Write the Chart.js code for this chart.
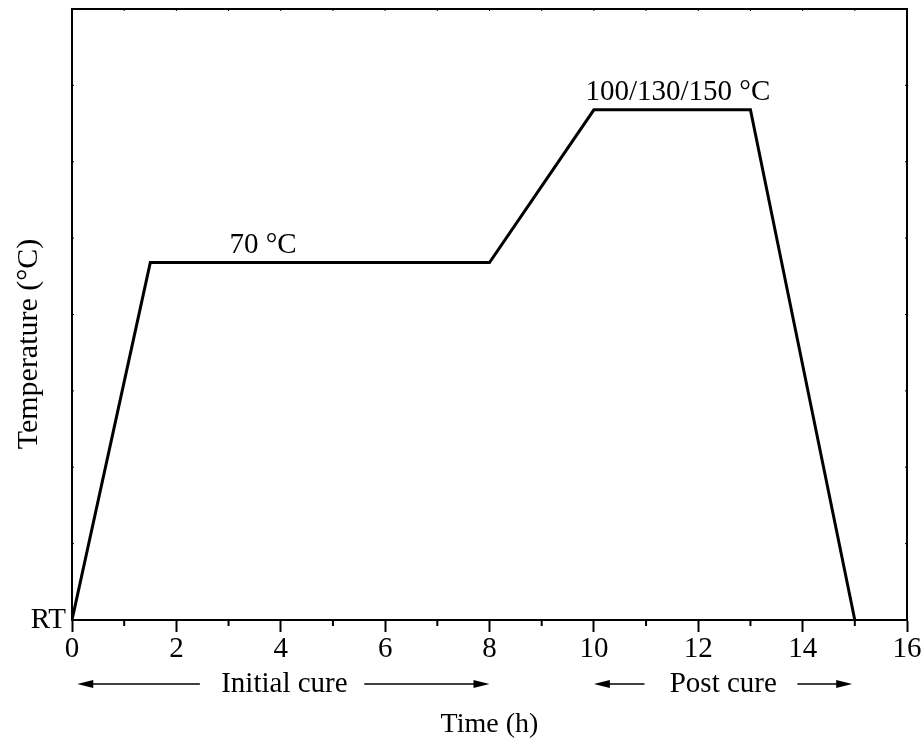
<!DOCTYPE html>
<html>
<head>
<meta charset="utf-8">
<script src="https://cdn.jsdelivr.net/npm/chart.js@4.4.1/dist/chart.umd.min.js"></script>
<style>
  html, body { margin: 0; padding: 0; background: #fff; }
  #wrap { width: 921px; height: 742px; }
</style>
</head>
<body>
<div id="wrap"><canvas id="cureChart" width="921" height="742"></canvas></div>
<script>
// cure schedule (y in arbitrary units, RT = 0)
const times = [0, 1.5, 8, 10, 13, 15];
const temps = [0, 4.68, 4.68, 6.68, 6.68, 0];

// plateau labels
const noteText = ['70 °C', '100/130/150 °C'];
const noteX = [3.66, 11.61];
const noteY = [4.68, 6.68];

// phase arrows under the x axis (x in hours)
const phaseNames = ['Initial cure', 'Post cure'];
const phaseLabelX = [4.07, 12.48];
const arrowFrom = [2.45, 5.6, 10.97, 13.9];
const arrowTo = [0.1, 8.0, 10.0, 14.95];

const SERIF = '"Liberation Serif", "Times New Roman", serif';

const extras = {
    id: 'extras',
    afterDraw(chart) {
        const ctx = chart.ctx;
        const a = chart.chartArea;
        const xs = chart.scales.x, ys = chart.scales.y;
        ctx.save();
        ctx.strokeStyle = '#000';
        ctx.fillStyle = '#000';

        // top and right of the frame
        ctx.lineWidth = 2;
        ctx.beginPath();
        ctx.moveTo(a.left - 1, a.top);
        ctx.lineTo(a.right, a.top);
        ctx.lineTo(a.right, a.bottom);
        ctx.stroke();

        // minor ticks on bottom, tiny inward ticks on the other sides
        ctx.lineWidth = 2;
        ctx.beginPath();
        for (let v = 1; v < 16; v += 2) {
            const px = xs.getPixelForValue(v);
            ctx.moveTo(px, a.bottom);
            ctx.lineTo(px, a.bottom + 6);
        }
        ctx.stroke();
        ctx.lineWidth = 1;
        ctx.beginPath();
        for (let v = 1; v < 16; v++) {
            const px = xs.getPixelForValue(v);
            ctx.moveTo(px, a.top);
            ctx.lineTo(px, a.top + 2);
        }
        for (let v = 1; v < 8; v++) {
            const py = ys.getPixelForValue(v);
            ctx.moveTo(a.left, py);
            ctx.lineTo(a.left + 2, py);
            ctx.moveTo(a.right, py);
            ctx.lineTo(a.right - 2, py);
        }
        ctx.stroke();

        // plateau labels
        ctx.font = '29px ' + SERIF;
        ctx.textAlign = 'center';
        ctx.textBaseline = 'alphabetic';
        noteText.forEach((t, i) => {
            ctx.fillText(t, xs.getPixelForValue(noteX[i]), ys.getPixelForValue(noteY[i]) - 10);
        });

        // phase arrows + names
        const ay = a.bottom + 64;
        ctx.lineWidth = 1.5;
        arrowFrom.forEach((f, i) => {
            const x0 = xs.getPixelForValue(f);
            const x1 = xs.getPixelForValue(arrowTo[i]);
            const dir = x1 > x0 ? 1 : -1;
            ctx.beginPath();
            ctx.moveTo(x0, ay);
            ctx.lineTo(x1 - dir * 10, ay);
            ctx.stroke();
            ctx.beginPath();
            ctx.moveTo(x1, ay);
            ctx.lineTo(x1 - dir * 16, ay - 4);
            ctx.lineTo(x1 - dir * 16, ay + 4);
            ctx.closePath();
            ctx.fill();
        });
        phaseNames.forEach((n, i) => {
            ctx.fillText(n, xs.getPixelForValue(phaseLabelX[i]), ay + 8);
        });

        // y title (sits a bit below the middle in the original)
        ctx.font = '30px ' + SERIF;
        ctx.translate(37, 344);
        ctx.rotate(-Math.PI / 2);
        ctx.fillText('Temperature (°C)', 0, 0);
        ctx.restore();
    }
};

new Chart('cureChart', {
    type: 'line',
    data: {
        datasets: [{
            data: times.map((t, i) => ({ x: t, y: temps[i] })),
            borderColor: '#000',
            borderWidth: 3,
            borderJoinStyle: 'miter',
            pointRadius: 0,
            tension: 0,
            fill: false,
        }]
    },
    options: {
        responsive: false,
        animation: false,
        events: [],
        layout: { padding: { top: 9, right: 14, left: 0, bottom: 0 } },
        plugins: {
            legend: { display: false },
            tooltip: { enabled: false },
        },
        scales: {
            x: {
                type: 'linear',
                min: 0,
                max: 16,
                afterFit: (s) => {
                    s.height = 122;
                    s.paddingLeft = 0;
                    s.paddingRight = 0;
                },
                grid: {
                    drawOnChartArea: false,
                    drawTicks: true,
                    tickLength: 12,
                    tickWidth: 2,
                    tickColor: (c) => (c.tick && c.tick.value % 2 === 0) ? '#000' : 'rgba(0,0,0,0)',
                },
                border: { display: true, color: '#000', width: 2 },
                ticks: {
                    stepSize: 1,
                    autoSkip: false,
                    maxRotation: 0,
                    padding: 3,
                    color: '#000',
                    font: { family: SERIF, size: 29, lineHeight: 1 },
                    callback: (v) => v % 2 === 0 ? String(v) : '',
                },
                title: {
                    display: true,
                    text: 'Time (h)',
                    color: '#000',
                    font: { family: SERIF, size: 28, lineHeight: 1 },
                    padding: { top: 0, bottom: 3 },
                },
            },
            y: {
                min: 0,
                max: 8,
                afterFit: (s) => {
                    s.width = 72;
                    s.paddingTop = 0;
                    s.paddingBottom = 0;
                },
                grid: { display: false, drawTicks: false },
                border: { display: true, color: '#000', width: 2 },
                ticks: {
                    stepSize: 1,
                    padding: 6,
                    color: '#000',
                    font: { family: SERIF, size: 29 },
                    callback: (v) => v === 0 ? 'RT' : '',
                },
            },
        },
    },
    plugins: [extras],
});
</script>
</body>
</html>
